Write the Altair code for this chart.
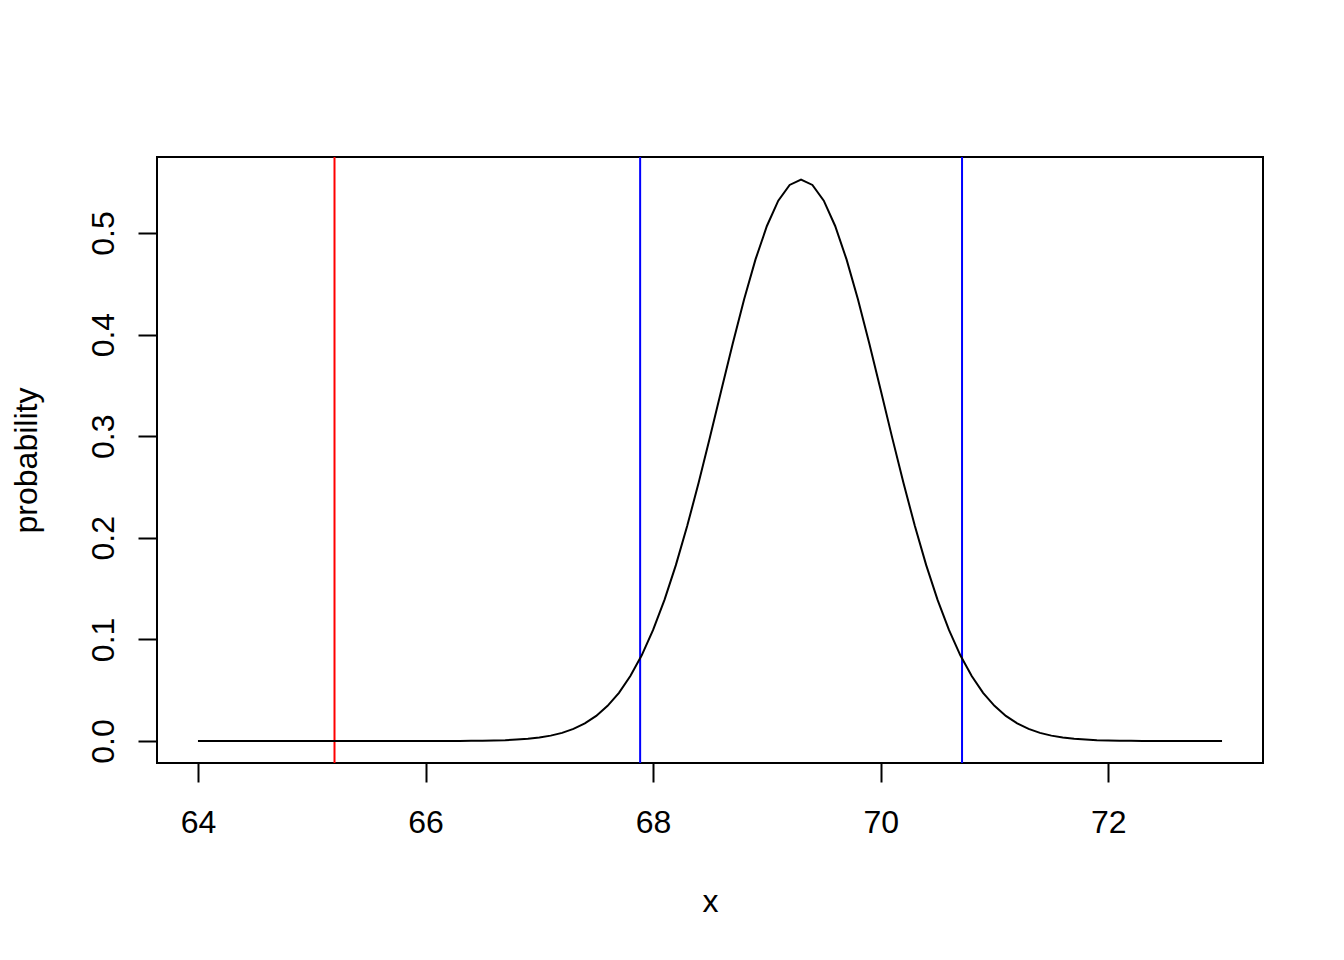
import altair as alt
import pandas as pd

# x grid (step 0.1 from 64 to 73)
x_vals = [round(64 + 0.1 * i, 1) for i in range(91)]
# density values
prob = [0.0] * 22 + [
    0.0001, 0.0001, 0.0002, 0.0003, 0.0005, 0.0008, 0.0014, 0.0022, 0.0035, 0.0053,
    0.0080, 0.0119, 0.0173, 0.0247, 0.0346, 0.0474, 0.0639, 0.0843, 0.1093, 0.1389,
    0.1731, 0.2118, 0.2541, 0.2991, 0.3454, 0.3912, 0.4348, 0.4740, 0.5069, 0.5318,
    0.5473, 0.5526,
    0.5473, 0.5318, 0.5069, 0.4740, 0.4348, 0.3912, 0.3454, 0.2991, 0.2541, 0.2118,
    0.1731, 0.1389, 0.1093, 0.0843, 0.0639, 0.0474, 0.0346, 0.0247, 0.0173, 0.0119,
    0.0080, 0.0053, 0.0035, 0.0022, 0.0014, 0.0008, 0.0005, 0.0003, 0.0002, 0.0001,
    0.0001, 0.0, 0.0, 0.0, 0.0, 0.0, 0.0,
]
red_lines = [65.2]
blue_lines = [67.886, 70.715]
x_ticks = [64, 66, 68, 70, 72]
y_ticks = [0.0, 0.1, 0.2, 0.3, 0.4, 0.5]

df = pd.DataFrame({"x": x_vals, "probability": prob})
red_df = pd.DataFrame({"x": red_lines})
blue_df = pd.DataFrame({"x": blue_lines})

FONT = "Liberation Sans"
W, H = 1106, 606

xscale = alt.Scale(domain=[63.64, 73.36], nice=False, zero=False)
yscale = alt.Scale(domain=[-0.02165, 0.5748], nice=False, zero=False)

xaxis = alt.Axis(
    values=x_ticks, format="d", domain=False, grid=False,
    tickSize=19, tickWidth=2, tickColor="black",
    labelFontSize=32, labelFont=FONT, labelColor="black", labelPadding=25,
    labelBaseline="top",
    title="x", titleFontSize=32, titleFont=FONT, titleFontWeight="normal",
    titleColor="black", titleX=W / 2, titleY=148, titleBaseline="alphabetic",
    titleAlign="center",
)
yaxis = alt.Axis(
    values=y_ticks, format=".1f", domain=False, grid=False,
    tickSize=19, tickWidth=2, tickColor="black",
    labelFontSize=32, labelFont=FONT, labelColor="black", labelPadding=25,
    labelAngle=270, labelAlign="center", labelBaseline="alphabetic",
    title="probability", titleFontSize=32, titleFont=FONT, titleFontWeight="normal",
    titleColor="black", titleAngle=270, titleX=-121, titleY=H / 2,
    titleBaseline="alphabetic", titleAlign="center",
)

curve = alt.Chart(df).mark_line(color="black", strokeWidth=2).encode(
    x=alt.X("x:Q", scale=xscale, axis=xaxis),
    y=alt.Y("probability:Q", scale=yscale, axis=yaxis),
)
red = alt.Chart(red_df).mark_rule(color="#FF0000", strokeWidth=2).encode(
    x=alt.X("x:Q", scale=xscale)
)
blue = alt.Chart(blue_df).mark_rule(color="#0000FF", strokeWidth=2).encode(
    x=alt.X("x:Q", scale=xscale)
)

chart = (
    alt.layer(red, blue, curve)
    .properties(
        width=W, height=H,
        autosize=alt.AutoSizeParams(type="none"),
        padding={"left": 149, "top": 149, "right": 60, "bottom": 180},
        background="white",
    )
    .configure_view(stroke="black", strokeWidth=2)
)

chart.save("out.html", embed_options={"renderer": "svg", "actions": False})
